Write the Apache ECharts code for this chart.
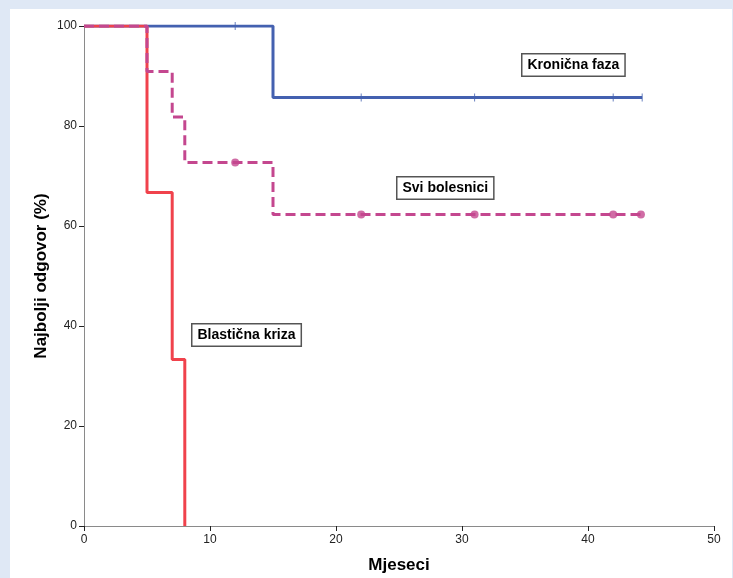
<!DOCTYPE html>
<html>
<head>
<meta charset="utf-8">
<script src="https://cdn.jsdelivr.net/npm/echarts@6/dist/echarts.min.js"></script>
<style>
  html, body { margin: 0; padding: 0; background: #dfe8f5; }
  #chart { width: 733px; height: 578px; }
</style>
</head>
<body>
<div id="chart"></div>
<script>
// vrijeme (mjeseci) i udio bolesnika s odgovorom (%)
const kronicnaT = [0, 15, 44.3];
const kronicnaS = [100, 85.7, 85.7];
const kronicnaCensT = [12, 22, 31, 42, 44.3];
const kronicnaCensS = [100, 85.7, 85.7, 85.7, 85.7];

const sviT = [0, 5, 7, 8, 15, 44.2];
const sviS = [100, 90.9, 81.8, 72.7, 62.3, 62.3];
const sviCensT = [12, 22, 31, 42, 44.2];
const sviCensS = [72.7, 62.3, 62.3, 62.3, 62.3];

const blastT = [0, 5, 7, 8];
const blastS = [100, 66.7, 33.3, 0];

const xTicks = [0, 10, 20, 30, 40, 50];
const yTicks = [0, 20, 40, 60, 80, 100];

const BLUE = '#4461b0';
const PINK = '#c4478f';
const RED = '#f0424c';

function pairs(t, s) {
  return t.map((v, i) => [v, s[i]]);
}

const chart = echarts.init(document.getElementById('chart'));

const axisCommon = {
  type: 'value',
  nameLocation: 'middle',
  nameMoveOverlap: false,
  nameTextStyle: { fontFamily: 'Liberation Sans', fontWeight: 'bold', fontSize: 17, color: '#000' },
  axisLine: { show: true, lineStyle: { color: '#8a8a8a', width: 1 } },
  axisTick: { show: true, inside: false, length: 5, lineStyle: { color: '#222', width: 1 } },
  axisLabel: { fontFamily: 'Liberation Sans', fontSize: 12, color: '#222' },
  splitLine: { show: false }
};

function boxLabel(x, y, text) {
  return {
    type: 'text',
    left: x,
    top: y,
    z: 100,
    style: {
      text: text,
      font: 'bold 14px "Liberation Sans"',
      fill: '#000',
      backgroundColor: '#fff',
      borderColor: '#555',
      borderWidth: 1.5,
      padding: [4, 5, 3, 5]
    }
  };
}

chart.setOption({
  animation: false,
  backgroundColor: '#dfe8f5',
  grid: { left: 84, right: 19, top: 26, bottom: 52, containLabel: false, outerBoundsMode: 'none' },
  xAxis: Object.assign({}, axisCommon, {
    min: 0, max: 50, interval: 10,
    name: 'Mjeseci', nameGap: 31,
    axisLabel: Object.assign({}, axisCommon.axisLabel, { margin: 8 })
  }),
  yAxis: Object.assign({}, axisCommon, {
    min: 0, max: 100, interval: 20,
    name: 'Najbolji odgovor (%)', nameGap: 34,
    axisLabel: Object.assign({}, axisCommon.axisLabel, { margin: 7 })
  }),
  graphic: [
    {
      type: 'rect',
      left: 10, top: 9, z: -10, silent: true,
      shape: { width: 722, height: 569 },
      style: { fill: '#fff' }
    },
    boxLabel(521, 53, 'Kronična faza'),
    boxLabel(396, 176, 'Svi bolesnici'),
    boxLabel(191, 323, 'Blastična kriza')
  ],
  series: [
    {
      name: 'Kronična faza', type: 'line', step: 'end', z: 2,
      data: pairs(kronicnaT, kronicnaS),
      showSymbol: false,
      lineStyle: { color: BLUE, width: 3 }
    },
    {
      name: 'Kronična faza cenz.', type: 'scatter', z: 3,
      data: pairs(kronicnaCensT, kronicnaCensS),
      symbol: 'rect', symbolSize: [1, 8],
      itemStyle: { color: BLUE }
    },
    {
      name: 'Blastična kriza', type: 'line', step: 'end', z: 4,
      data: pairs(blastT, blastS),
      showSymbol: false,
      lineStyle: { color: RED, width: 3 }
    },
    {
      name: 'Svi bolesnici', type: 'line', step: 'end', z: 5,
      data: pairs(sviT, sviS),
      showSymbol: false,
      lineStyle: { color: PINK, width: 3, type: [10, 5] }
    },
    {
      name: 'Svi bolesnici cenz.', type: 'scatter', z: 6,
      data: pairs(sviCensT, sviCensS),
      symbol: 'circle', symbolSize: 8,
      itemStyle: { color: PINK }
    }
  ]
});
</script>
</body>
</html>
